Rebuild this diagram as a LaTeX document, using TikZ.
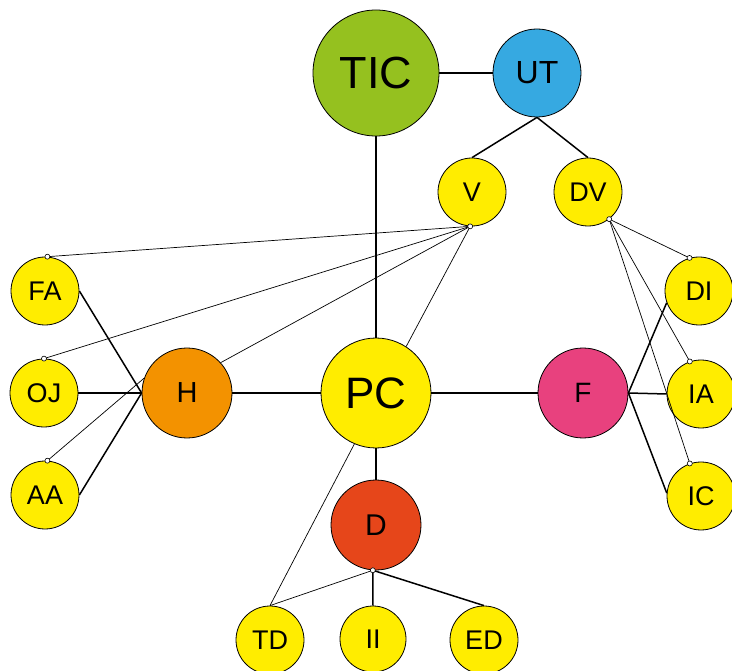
\documentclass[tikz,border=0pt]{standalone}
\usepackage{fontspec}
\setmainfont{Liberation Sans}
\definecolor{ticgreen}{HTML}{95C11F}
\definecolor{utblue}{HTML}{36A9E1}
\definecolor{ylw}{HTML}{FFED00}
\definecolor{orng}{HTML}{F39200}
\definecolor{pnk}{HTML}{E8417E}
\definecolor{redor}{HTML}{E6461A}
\begin{document}
\begin{tikzpicture}[x=1pt,y=-1pt,
  bub/.style={circle,draw=black,line width=0.8pt,inner sep=0pt,text=black},
  small/.style={bub,fill=ylw,minimum size=68pt,font=\fontsize{27}{27}\selectfont},
  strong/.style={line width=1.5pt},
  weak/.style={line width=0.7pt},
  dot/.style={circle,draw=black,fill=white,line width=0.6pt,inner sep=0pt,minimum size=5pt}]
\clip (0,0) rectangle (732,671);
\fill[white] (0,0) rectangle (732,671);
% nodes
\node[bub,fill=ticgreen,minimum size=126pt,font=\fontsize{45}{45}\selectfont] (TIC) at (376,73) {TIC};
\node[bub,fill=utblue,minimum size=88pt,font=\fontsize{32}{32}\selectfont] (UT) at (537,73) {UT};
\node[small] (V) at (472,192) {V};
\node[small] (DV) at (588,192) {DV};
\node[small] (FA) at (45,291) {FA};
\node[small] (OJ) at (44,393) {OJ};
\node[small] (AA) at (45,495) {AA};
\node[bub,fill=orng,minimum size=90pt,font=\fontsize{29}{29}\selectfont] (H) at (187,393) {H};
\node[bub,fill=ylw,minimum size=110pt,font=\fontsize{44}{44}\selectfont] (PC) at (376,393) {PC};
\node[bub,fill=pnk,minimum size=90pt,font=\fontsize{28}{28}\selectfont] (F) at (583,393) {\raisebox{-4pt}{F}};
\node[small] (DI) at (699,291) {DI};
\node[small] (IA) at (701,394) {IA};
\node[small] (IC) at (701,496) {IC};
\node[bub,fill=redor,minimum size=90pt,font=\fontsize{30}{30}\selectfont] (D) at (376,525) {D};
\node[small] (TD) at (270,640) {TD};
\node[small,minimum size=66pt] (II) at (373,639) {II};
\node[small] (ED) at (484,640) {ED};
% thick connectors
\draw[strong] (TIC.east) -- (UT.west);
\draw[strong] (TIC.south) -- (PC.north);
\draw[strong] (UT.south) -- (V.north);
\draw[strong] (UT.south) -- (DV.north);
\draw[strong] (FA.east) -- (H.west);
\draw[strong] (OJ.east) -- (H.west);
\draw[strong] (AA.east) -- (H.west);
\draw[strong] (H.east) -- (PC.west);
\draw[strong] (PC.east) -- (F.west);
\draw[strong] (F.east) -- (DI.200);
\draw[strong] (F.east) -- (IA.west);
\draw[strong] (F.east) -- (IC.175);
\draw[strong] (PC.south) -- (D.north);
\draw[strong] (D.266) -- (II.north);
\draw[strong] (D.266) -- (ED.north);
% thin connectors
\draw[weak] (V.-93) -- (FA.86);
\draw[weak] (V.-93) -- (OJ.north);
\draw[weak] (V.-93) -- (H.42);
\draw[weak] (V.-93) -- (PC.57);
\draw[weak] (H.161) -- (AA.86);
\draw[weak] (DV.-52) -- (DI.106);
\draw[weak] (DV.-52) -- (IA.109);
\draw[weak] (DV.-52) -- (IC.109);
\draw[weak] (D.266) -- (TD.north);
\draw[weak] (PC.-113) -- (TD.north);
% end markers
\node[dot] (v1) at (V.-93) {};
\node[dot] (fa1) at (FA.86) {};
\node[dot] (oj1) at (OJ.north) {};
\node[dot] (aa1) at (AA.86) {};
\node[dot] (dv1) at (DV.-52) {};
\node[dot] (di1) at (DI.106) {};
\node[dot] (ia1) at (IA.109) {};
\node[dot] (ic1) at (IC.109) {};
\node[dot] (d1) at (D.266) {};
\end{tikzpicture}
\end{document}
